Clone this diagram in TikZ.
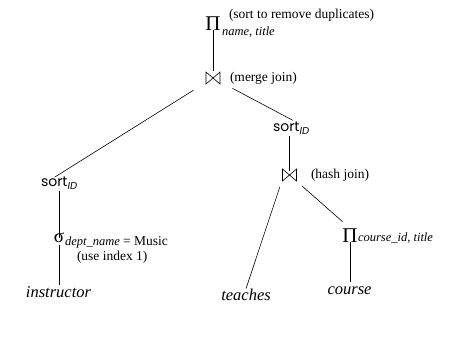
\documentclass[tikz,border=0pt]{standalone}
\usepackage{fontspec}
\setmainfont{Liberation Serif}
\newfontfamily\sortfont{Poppins}
\begin{document}
\begin{tikzpicture}[x=1pt,y=-1pt,
  lbl/.style={inner sep=0pt, outer sep=0pt, font=\fontsize{13.5}{16}\selectfont},
  subs/.style={inner sep=0pt, outer sep=0pt, font=\fontsize{12.5}{14}\selectfont\itshape},
  sym/.style={inner sep=0pt, outer sep=0pt, font=\fontsize{21}{23}\selectfont},
  sigsym/.style={inner sep=0pt, outer sep=0pt, font=\fontsize{19}{21}\selectfont},
  rel/.style={inner sep=0pt, outer sep=0pt, font=\fontsize{16.5}{18}\selectfont\itshape},
  srt/.style={inner sep=2pt, outer sep=0pt, font=\sortfont\fontsize{14}{16}\selectfont},
  joinop/.style={minimum width=16pt, minimum height=14pt, inner sep=0pt, outer sep=0pt,
    path picture={\draw[line width=0.6pt]
      ([shift={(-7,-6)}]path picture bounding box.center) -- ++(0,12) -- ++(14,-12) -- ++(0,12) -- cycle;}},
  edge/.style={draw, line width=0.6pt}
]
\useasboundingbox (0,0) rectangle (471,348);

% top projection
\node[sym, anchor=base] (p1) at (213,30) {Π};
\node[lbl, anchor=base west] (p1n) at (229,19) {(sort to remove duplicates)};
\node[subs, anchor=base west] (p1s) at (222,35) {name, title};

% merge join
\node[joinop] (mj) at (213,78) {};
\node[lbl, anchor=base west] (mjn) at (230,81) {(merge join)};

% left sort
\node[srt, anchor=base west] (sortL) at (39,186) {sort\raisebox{-3pt}{\fontsize{10}{12}\selectfont\itshape ID}};
% right sort
\node[srt, anchor=base west] (sortR) at (271,131) {sort\raisebox{-3pt}{\fontsize{10}{12}\selectfont\itshape ID}};

% hash join
\node[joinop] (hj) at (289.5,175) {};
\node[lbl, anchor=base west] (hjn) at (311,178) {(hash join)};

% selection
\node[sigsym, anchor=base] (sig) at (59,242) {σ};
\node[subs, anchor=base west] (sigs) at (65,245) {dept\_name\fontsize{13.5}{16}\selectfont\upshape{} = Music};
\node[lbl, anchor=base west] (sign) at (77,260) {(use index 1)};

% projection course
\node[sym, anchor=base] (p2) at (350,242) {Π};
\node[subs, anchor=base west] (p2s) at (358,241) {course\_id, title};

% relations
\node[rel, anchor=base] (instr) at (58.5,297) {instructor};
\node[rel, anchor=base] (teaches) at (246,300) {teaches};
\node[rel, anchor=base] (course) at (349.5,294) {course};

% connectors
\draw[edge] (p1.south) -- (mj.north);
\draw[edge, shorten <=23pt, shorten >=-5pt] (mj.center) -- (sortL.north);
\draw[edge, shorten <=22pt, shorten >=-2pt] (mj.center) -- (sortR.north);
\draw[edge, shorten >=-6pt] (sortL.south) -- (sortL.south |- sig.north);
\draw[edge, shorten <=3pt, shorten >=1pt] (sig.south) -- (sig.south |- instr.north);
\draw[edge, shorten >=-3pt] (hj.north |- sortR.south) -- (hj.north);
\draw[edge, shorten <=5pt] (hj.south west) -- (teaches.north);
\draw[edge, shorten <=6pt, shorten >=10pt] (hj.south east) -- (p2.north);
\draw[edge, shorten >=4pt] (p2.south) -- (p2.south |- course.north);
\end{tikzpicture}
\end{document}
